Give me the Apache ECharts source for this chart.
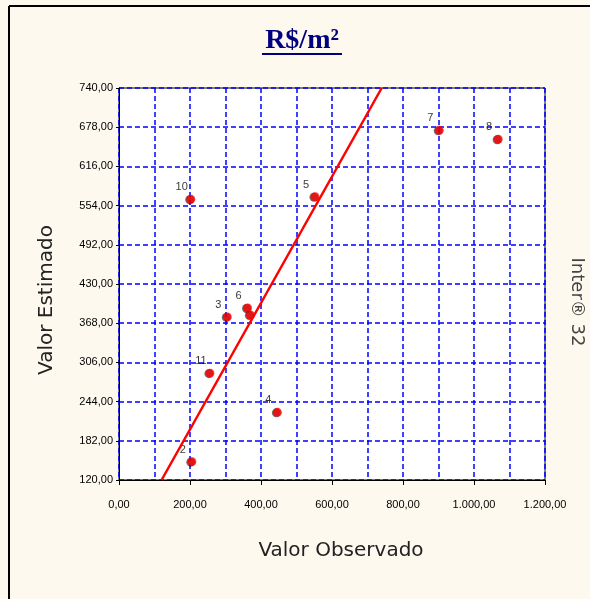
<!DOCTYPE html>
<html>
<head>
<meta charset="utf-8">
<script src="https://cdn.jsdelivr.net/npm/echarts@6/dist/echarts.min.js"></script>
<style>
  html, body { margin: 0; padding: 0; background: #fdf9ef; }
  #chart { width: 590px; height: 599px; }
</style>
</head>
<body>
<div id="chart"></div>
<script>
// valores observados x estimados (R$/m²)
const pointLabels = ['10', '5', '3', '6', '', '11', '4', '2', '7', '8'];
const observed = [202, 552, 305, 362, 370, 256, 446, 205, 902, 1068];
const estimated = [564, 568, 378, 392, 381, 289, 227, 149, 673, 659];

// reta de referencia (estimado = observado)
const refLine = [[120, 120], [740, 740]];

const yTicks = ['120,00', '182,00', '244,00', '306,00', '368,00', '430,00',
  '492,00', '554,00', '616,00', '678,00', '740,00'];
const xTicks = ['0,00', '200,00', '400,00', '600,00', '800,00', '1.000,00', '1.200,00'];

const tickFont = { fontFamily: 'Liberation Sans', fontSize: 11, color: '#000' };
const gridDash = { color: '#0000ff', width: 1.5, type: [5, 3] };

const myChart = echarts.init(document.getElementById('chart'));

const option = {
  backgroundColor: '#fdf9ef',
  animation: false,
  grid: {
    left: 119, top: 88, right: 45, bottom: 119,
    show: true, backgroundColor: '#ffffff', borderColor: '#000', borderWidth: 1
  },
  xAxis: {
    type: 'value', min: 0, max: 1200, interval: 200,
    axisLine: { show: true, lineStyle: { color: '#000' } },
    axisTick: { show: true, length: 5, lineStyle: { color: '#000' } },
    axisLabel: Object.assign({ margin: 19, formatter: (v) => xTicks[Math.round(v / 200)] }, tickFont),
    splitLine: { show: true, lineStyle: gridDash },
    minorTick: { show: false, splitNumber: 2 },
    minorSplitLine: { show: true, lineStyle: gridDash }
  },
  yAxis: [
    {
      // eixo dos dados
      type: 'value', min: 120, max: 740, show: false,
      splitLine: { show: false }
    },
    {
      // eixo das marcas (passo de 62)
      type: 'value', min: 0, max: 10, interval: 1, position: 'left',
      axisLine: { show: true, lineStyle: { color: '#000' } },
      axisTick: { show: true, length: 3, lineStyle: { color: '#000' } },
      axisLabel: Object.assign({ margin: 6, formatter: (v) => yTicks[Math.round(v)] }, tickFont),
      splitLine: { show: true, lineStyle: gridDash }
    }
  ],
  series: [
    {
      type: 'line',
      yAxisIndex: 0,
      data: refLine,
      symbol: 'none',
      lineStyle: { color: '#ff0000', width: 2.5 },
      silent: true
    },
    {
      type: 'scatter',
      yAxisIndex: 0,
      symbol: 'circle',
      symbolSize: 9,
      itemStyle: {
        color: '#ff0000',
        borderWidth: 0,
        shadowColor: 'rgba(0,0,0,0.7)', shadowOffsetX: -1, shadowOffsetY: 0.5, shadowBlur: 0
      },
      label: {
        show: true, position: 'top', distance: 2, offset: [-9, 0],
        fontFamily: 'Liberation Sans', fontSize: 11, color: '#000',
        formatter: (p) => pointLabels[p.dataIndex]
      },
      data: observed.map((v, i) => [v, estimated[i]])
    }
  ],
  graphic: [
    // moldura
    { type: 'line', shape: { x1: 9, y1: 6, x2: 9, y2: 599 }, style: { stroke: '#000', lineWidth: 2 } },
    { type: 'line', shape: { x1: 9, y1: 6, x2: 590, y2: 6 }, style: { stroke: '#000', lineWidth: 2 } },
    // titulo
    {
      type: 'text', x: 302, y: 41,
      style: {
        text: 'R$/m²', fill: '#000080', font: 'bold 28px "Liberation Serif"',
        align: 'center', verticalAlign: 'middle'
      }
    },
    { type: 'line', shape: { x1: 262, y1: 54, x2: 342, y2: 54 }, style: { stroke: '#000080', lineWidth: 2 } },
    {
      type: 'text', x: 341, y: 551,
      style: {
        text: 'Valor Observado', fill: '#222', font: '20px "DejaVu Sans"',
        align: 'center', verticalAlign: 'middle'
      }
    },
    {
      type: 'text', x: 47, y: 300, rotation: Math.PI / 2,
      style: {
        text: 'Valor Estimado', fill: '#222', font: '20px "DejaVu Sans"',
        align: 'center', verticalAlign: 'middle'
      }
    },
    {
      type: 'text', x: 577, y: 302, rotation: -Math.PI / 2,
      style: {
        text: 'Inter® 32', fill: '#444', font: '18px "DejaVu Sans"',
        align: 'center', verticalAlign: 'middle'
      }
    }
  ]
};

myChart.setOption(option);
</script>
</body>
</html>
